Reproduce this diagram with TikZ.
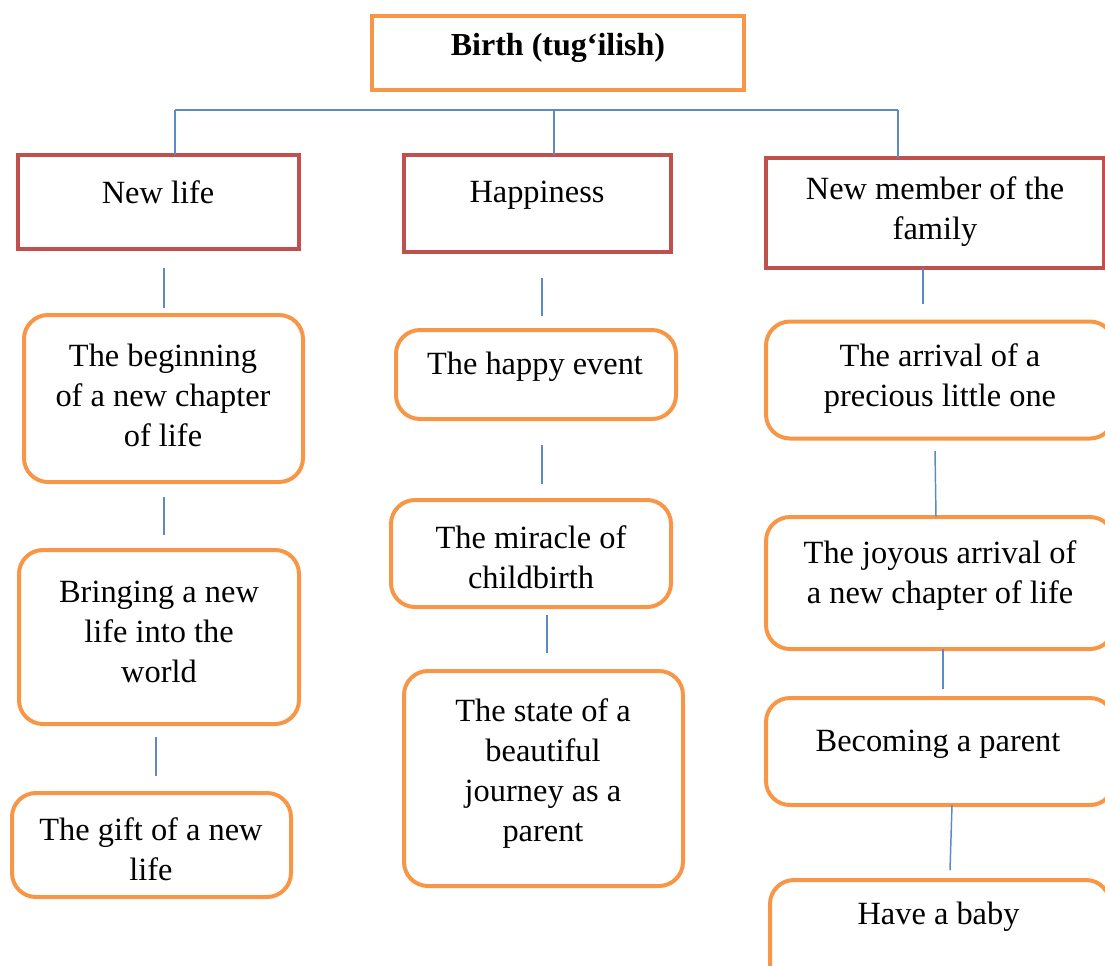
\documentclass[tikz,border=0pt]{standalone}
\usepackage{fontspec}
\setmainfont{Liberation Serif}
\definecolor{borange}{HTML}{F79646}
\definecolor{bred}{HTML}{C0504D}
\definecolor{bblue}{HTML}{5B8AC6}
\begin{document}
\begin{tikzpicture}[x=0.75pt,y=-0.75pt,
  obox/.style={draw=borange,line width=3pt,rounded corners=18pt,inner sep=0pt},
  tbox/.style={draw=borange,line width=3pt,inner sep=0pt},
  rbox/.style={draw=bred,line width=3pt,inner sep=0pt},
  txt/.style={align=center,inner sep=0pt,yshift=-2pt,font=\fontsize{24.3}{30}\selectfont},
  conn/.style={draw=bblue,line width=1.1pt}]
\useasboundingbox (0,0) rectangle (1105,965);
\clip (0,0) rectangle (1105,965);
% top
\node[tbox,minimum width=279pt,minimum height=55.5pt] (birth) at (558,53) {};
\node[txt,font=\fontsize{24}{30}\selectfont\bfseries] (birtht) at (558,45) {Birth (tug‘ilish)};
% categories
\node[rbox,minimum width=210.75pt,minimum height=70.5pt] (newlife) at (158.5,202) {};
\node[txt] (newlifet) at (158,190) {New life};
\node[rbox,minimum width=200.25pt,minimum height=72.75pt] (happy) at (537.5,203.5) {};
\node[txt] (happyt) at (537,193) {Happiness};
\node[rbox,minimum width=253.5pt,minimum height=82.5pt] (member) at (935,213) {};
\node[txt] (membert) at (935,209) {New member of the\\family};
% column 1
\node[obox,minimum width=209.25pt,minimum height=125.25pt] (a1) at (163.5,398.5) {};
\node[txt] (a1t) at (163,393) {The beginning\\of a new chapter\\of life};
\node[obox,minimum width=210pt,minimum height=130.5pt] (a2) at (159,637) {};
\node[txt] (a2t) at (159,629) {Bringing a new\\life into the\\world};
\node[obox,minimum width=209.25pt,minimum height=78pt] (a3) at (151.5,845) {};
\node[txt] (a3t) at (151,846.5) {The gift of a new\\life};
% column 2
\node[obox,minimum width=210pt,minimum height=66.75pt] (b1) at (536,374.5) {};
\node[txt] (b1t) at (535,364) {The happy event};
\node[obox,minimum width=210pt,minimum height=80.25pt] (b2) at (531,553.5) {};
\node[txt] (b2t) at (531,555) {The miracle of\\childbirth};
\node[obox,minimum width=209.25pt,minimum height=161.25pt] (b3) at (543.5,778.5) {};
\node[txt] (b3t) at (543,770.5) {The state of a\\beautiful\\journey as a\\parent};
% column 3
\node[obox,minimum width=261pt,minimum height=87.75pt] (c1) at (940,380) {};
\node[txt] (c1t) at (940,376) {The arrival of a\\precious little one};
\node[obox,minimum width=261pt,minimum height=99pt] (c2) at (940,583) {};
\node[txt] (c2t) at (940,572.5) {The joyous arrival of\\a new chapter of life};
\node[obox,minimum width=261pt,minimum height=80.25pt] (c3) at (940,751.5) {};
\node[txt] (c3t) at (938,742) {Becoming a parent};
\node[obox,minimum width=255pt,minimum height=82.5pt] (c4) at (940,935) {};
\node[txt] (c4t) at (938.5,914) {Have a baby};
% connector points
\coordinate (hl) at (175,110);
\coordinate (hm) at (554,110);
\coordinate (hr) at (898,110);
\coordinate (p1a) at (175,155);
\coordinate (p2a) at (554,155);
\coordinate (p3a) at (898,158);
\coordinate (q1a) at (164,268); \coordinate (q1b) at (164,308);
\coordinate (q2a) at (164,497); \coordinate (q2b) at (164,535);
\coordinate (q3a) at (156,737); \coordinate (q3b) at (156,776);
\coordinate (r1a) at (542,278); \coordinate (r1b) at (542,316);
\coordinate (r2a) at (542,445); \coordinate (r2b) at (542,484);
\coordinate (r3a) at (547,615); \coordinate (r3b) at (547,653);
\coordinate (s1a) at (923,268); \coordinate (s1b) at (923,304);
\coordinate (s2a) at (935,451); \coordinate (s2b) at (936,517);
\coordinate (s3a) at (943,649); \coordinate (s3b) at (943,689);
\coordinate (s4a) at (952,805); \coordinate (s4b) at (950,870);
\draw[conn] (hl) -- (hr);
\draw[conn] (hl) -- (p1a);
\draw[conn] (hm) -- (p2a);
\draw[conn] (hr) -- (p3a);
\draw[conn] (q1a) -- (q1b);
\draw[conn] (q2a) -- (q2b);
\draw[conn] (q3a) -- (q3b);
\draw[conn] (r1a) -- (r1b);
\draw[conn] (r2a) -- (r2b);
\draw[conn] (r3a) -- (r3b);
\draw[conn] (s1a) -- (s1b);
\draw[conn] (s2a) -- (s2b);
\draw[conn] (s3a) -- (s3b);
\draw[conn] (s4a) -- (s4b);
\end{tikzpicture}
\end{document}
